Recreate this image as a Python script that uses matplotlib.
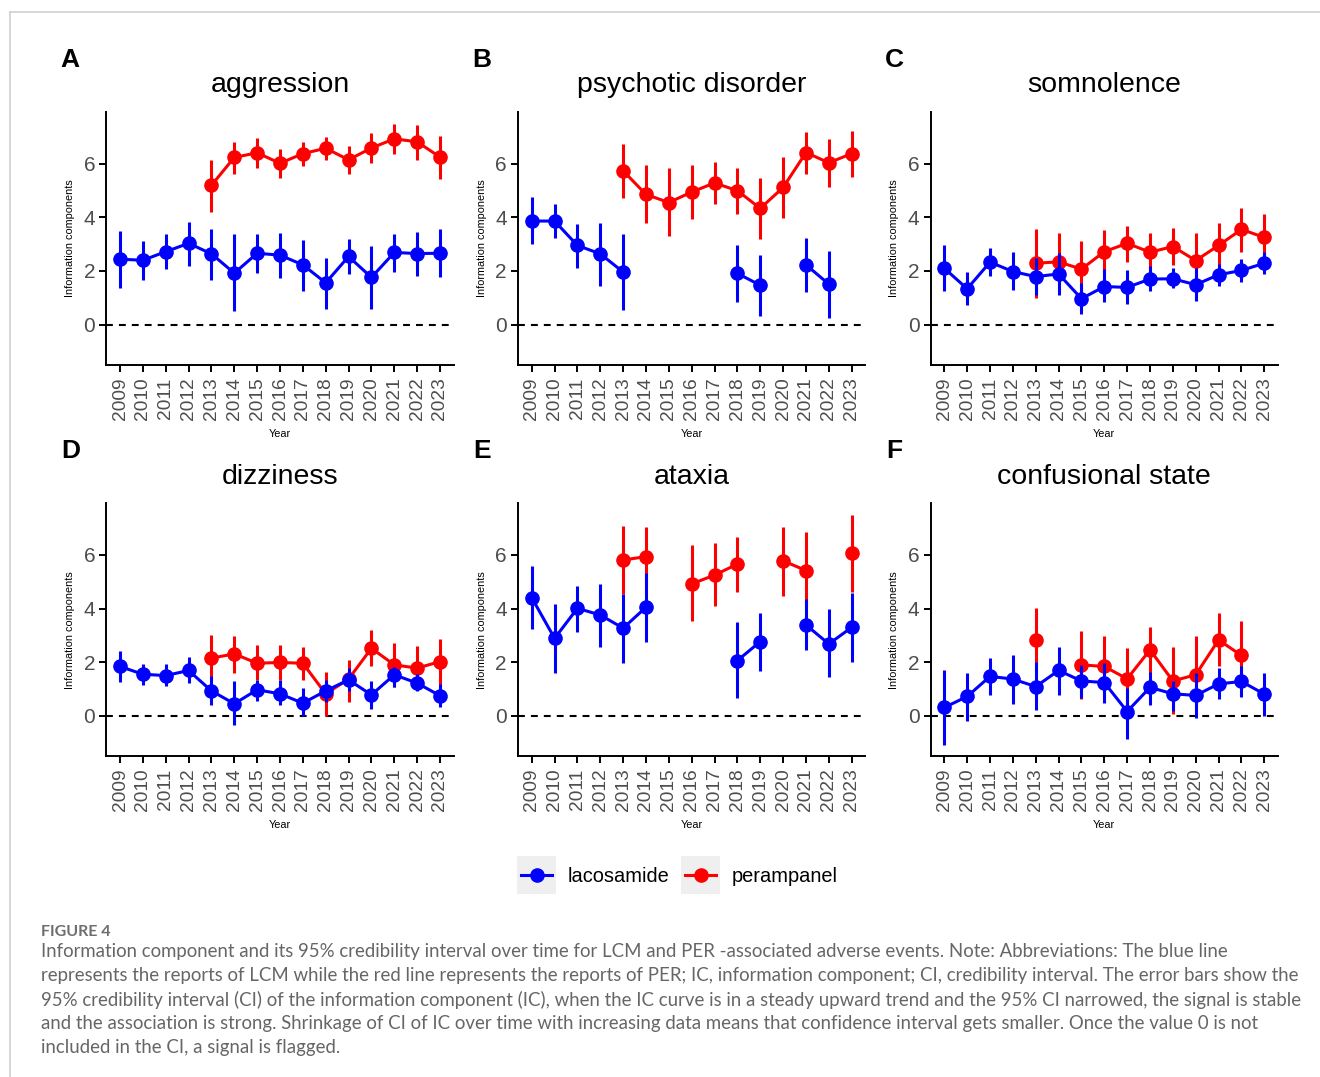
import numpy as np
import matplotlib.pyplot as plt
from matplotlib.lines import Line2D
from matplotlib.patches import Rectangle

nan = np.nan

# Data
years = [2009, 2010, 2011, 2012, 2013, 2014, 2015, 2016, 2017, 2018, 2019, 2020, 2021, 2022, 2023]
titles = ['aggression', 'psychotic disorder', 'somnolence', 'dizziness', 'ataxia', 'confusional state']
letters = ['A', 'B', 'C', 'D', 'E', 'F']
drugs = ['lacosamide', 'perampanel']

# lacosamide (blue): information component and 95% credibility interval
lcm_ic = [
    [2.44, 2.40, 2.72, 3.03, 2.64, 1.92, 2.66, 2.59, 2.23, 1.56, 2.54, 1.76, 2.69, 2.65, 2.66],
    [3.86, 3.86, 2.95, 2.64, 1.96, nan, nan, nan, nan, 1.91, 1.47, nan, 2.23, 1.51, nan],
    [2.10, 1.34, 2.33, 1.98, 1.79, 1.89, 0.97, 1.42, 1.39, 1.70, 1.71, 1.49, 1.86, 2.02, 2.29],
    [1.84, 1.55, 1.50, 1.69, 0.93, 0.45, 0.97, 0.82, 0.47, 0.93, 1.34, 0.78, 1.53, 1.22, 0.75],
    [4.41, 2.89, 4.01, 3.76, 3.27, 4.05, nan, nan, nan, 2.06, 2.77, nan, 3.39, 2.68, 3.30],
    [0.31, 0.72, 1.47, 1.37, 1.09, 1.69, 1.30, 1.24, 0.16, 1.06, 0.82, 0.76, 1.19, 1.28, 0.81],
]
lcm_lo = [
    [1.36, 1.67, 2.08, 2.20, 1.67, 0.52, 1.94, 1.73, 1.26, 0.59, 1.89, 0.59, 1.98, 1.82, 1.77],
    [3.00, 3.22, 2.13, 1.46, 0.53, nan, nan, nan, nan, 0.84, 0.31, nan, 1.21, 0.25, nan],
    [1.24, 0.72, 1.82, 1.30, 1.11, 1.11, 0.40, 0.84, 0.77, 1.24, 1.36, 0.87, 1.46, 1.58, 1.88],
    [1.25, 1.16, 1.12, 1.22, 0.39, -0.34, 0.57, 0.39, 0.00, 0.53, 0.91, 0.26, 1.09, 0.91, 0.32],
    [3.23, 1.59, 3.12, 2.58, 1.96, 2.77, nan, nan, nan, 0.66, 1.68, nan, 2.46, 1.44, 2.02],
    [-1.08, -0.21, 0.78, 0.45, 0.22, 0.78, 0.66, 0.47, -0.87, 0.41, 0.19, -0.09, 0.62, 0.70, 0.00],
]
lcm_hi = [
    [3.49, 3.12, 3.37, 3.81, 3.56, 3.37, 3.37, 3.43, 3.16, 2.50, 3.18, 2.93, 3.37, 3.44, 3.56],
    [4.76, 4.49, 3.75, 3.77, 3.37, nan, nan, nan, nan, 2.97, 2.60, nan, 3.22, 2.75, nan],
    [2.95, 1.96, 2.85, 2.70, 2.48, 2.66, 1.57, 2.07, 2.04, 2.17, 2.10, 2.10, 2.26, 2.45, 2.72],
    [2.43, 1.94, 1.93, 2.19, 1.49, 1.28, 1.34, 1.32, 1.03, 1.32, 1.78, 1.28, 1.81, 1.57, 1.19],
    [5.57, 4.17, 4.84, 4.91, 4.55, 5.32, nan, nan, nan, 3.49, 3.85, nan, 4.36, 3.99, 4.57],
    [1.71, 1.59, 2.15, 2.25, 2.02, 2.56, 1.90, 1.96, 1.03, 1.65, 1.28, 1.59, 1.78, 1.86, 1.59],
]

# perampanel (red)
per_ic = [
    [nan, nan, nan, nan, 5.19, 6.23, 6.40, 6.01, 6.37, 6.57, 6.14, 6.58, 6.92, 6.81, 6.24],
    [nan, nan, nan, nan, 5.73, 4.85, 4.55, 4.94, 5.28, 4.99, 4.33, 5.11, 6.41, 6.03, 6.37],
    [nan, nan, nan, nan, 2.29, 2.34, 2.07, 2.72, 3.03, 2.70, 2.91, 2.39, 2.95, 3.55, 3.25],
    [nan, nan, nan, nan, 2.15, 2.31, 1.96, 1.99, 1.96, 0.82, 1.37, 2.52, 1.90, 1.78, 2.02],
    [nan, nan, nan, nan, 5.81, 5.94, nan, 4.92, 5.25, 5.66, nan, 5.78, 5.42, nan, 6.06],
    [nan, nan, nan, nan, 2.83, nan, 1.90, 1.84, 1.38, 2.46, 1.30, 1.53, 2.83, 2.25, nan],
]
per_lo = [
    [nan, nan, nan, nan, 4.21, 5.63, 5.82, 5.47, 5.92, 6.13, 5.61, 6.03, 6.37, 6.13, 5.42],
    [nan, nan, nan, nan, 4.73, 3.80, 3.32, 3.94, 4.48, 4.12, 3.19, 3.96, 5.61, 5.14, 5.51],
    [nan, nan, nan, nan, 0.99, 1.30, 1.00, 1.90, 2.35, 2.00, 2.23, 1.60, 2.10, 2.72, 2.40],
    [nan, nan, nan, nan, 1.40, 1.61, 1.32, 1.34, 1.34, 0.00, 0.53, 1.84, 1.07, 0.97, 1.10],
    [nan, nan, nan, nan, 4.55, 4.80, nan, 3.52, 4.10, 4.63, nan, 4.48, 4.00, nan, 4.60],
    [nan, nan, nan, nan, 1.70, nan, 0.63, 0.80, 0.30, 1.60, 0.06, 0.30, 1.84, 1.10, nan],
]
per_hi = [
    [nan, nan, nan, nan, 6.13, 6.79, 6.96, 6.53, 6.79, 6.98, 6.66, 7.15, 7.46, 7.43, 7.03],
    [nan, nan, nan, nan, 6.74, 5.94, 5.84, 5.94, 6.06, 5.84, 5.48, 6.25, 7.18, 6.93, 7.22],
    [nan, nan, nan, nan, 3.55, 3.40, 3.13, 3.53, 3.69, 3.43, 3.61, 3.40, 3.77, 4.33, 4.12],
    [nan, nan, nan, nan, 3.02, 2.98, 2.65, 2.65, 2.55, 1.65, 2.09, 3.20, 2.73, 2.62, 2.87],
    [nan, nan, nan, nan, 7.08, 7.03, nan, 6.37, 6.43, 6.66, nan, 7.03, 6.84, nan, 7.49],
    [nan, nan, nan, nan, 4.01, nan, 3.17, 2.99, 2.52, 3.33, 2.58, 2.96, 3.85, 3.52, nan],
]

caption_lines = [
    "Information component and its 95% credibility interval over time for LCM and PER -associated adverse events. Note: Abbreviations: The blue line",
    "represents the reports of LCM while the red line represents the reports of PER; IC, information component; CI, credibility interval. The error bars show the",
    "95% credibility interval (CI) of the information component (IC), when the IC curve is in a steady upward trend and the 95% CI narrowed, the signal is stable",
    "and the association is strong. Shrinkage of CI of IC over time with increasing data means that confidence interval gets smaller. Once the value 0 is not",
    "included in the CI, a signal is flagged.",
]

BLUE = '#0000FF'
RED = '#FF0000'
TICK_GRAY = '#4D4D4D'

plt.rcParams['font.family'] = ['Liberation Sans', 'DejaVu Sans']

W, H = 1320, 1077
fig = plt.figure(figsize=(W / 100, H / 100), dpi=100)


def px_box(left, top, right, bottom):
    return [left / W, 1 - bottom / H, (right - left) / W, (bottom - top) / H]


col_x = [(106.3, 453.7), (518.0, 865.4), (930.6, 1278.0)]
row_y = [(112.0, 365.0), (503.5, 756.0)]

for i in range(6):
    r, c = divmod(i, 3)
    x0, x1 = col_x[c]
    y0, y1 = row_y[r]
    ax = fig.add_axes(px_box(x0, y0, x1, y1))

    ax.axhline(0, color='black', lw=1.5, ls=(0, (3.3, 2.9)), zorder=1)

    # perampanel first, lacosamide drawn on top
    ax.plot(years, per_ic[i], color=RED, lw=2.2, marker='o', ms=9.5, zorder=2)
    ax.vlines(years, per_lo[i], per_hi[i], color=RED, lw=2.2, zorder=2)
    ax.plot(years, lcm_ic[i], color=BLUE, lw=2.2, marker='o', ms=9.5, zorder=3)
    ax.vlines(years, lcm_lo[i], lcm_hi[i], color=BLUE, lw=2.2, zorder=3)

    ax.set_xlim(2008.4, 2023.6)
    ax.set_ylim(-1.5, 7.92)
    ax.set_xticks(years)
    ax.set_xticklabels([str(y) for y in years], rotation=90, fontsize=13.8, color=TICK_GRAY)
    ax.set_yticks([0, 2, 4, 6])
    ax.set_yticklabels(['0', '2', '4', '6'], fontsize=15, color=TICK_GRAY)
    ax.tick_params(axis='both', length=5, width=1.4, color='black', pad=3)
    ax.tick_params(axis='x', pad=4)

    for s in ['top', 'right']:
        ax.spines[s].set_visible(False)
    for s in ['left', 'bottom']:
        ax.spines[s].set_linewidth(1.4)

    ax.set_xlabel('Year', fontsize=7.8, labelpad=6)
    ax.set_ylabel('Information components', fontsize=7.8, labelpad=6)

    cx = (x0 + x1) / 2
    fig.text(cx / W, 1 - (y0 - 27) / H, titles[i], fontsize=20.5, ha='center', va='center')
    fig.text((x0 - 36) / W, 1 - (y0 - 52) / H, letters[i], fontsize=19,
             fontweight='bold', ha='center', va='center')

# legend with grey key background
leg_y = 875
for k, (name, col, kx) in enumerate(zip(drugs, [BLUE, RED], [517, 681])):
    fig.patches.append(Rectangle((kx / W, 1 - 894 / H), 39 / W, 38 / H,
                                 transform=fig.transFigure, facecolor='#EFEFEF',
                                 edgecolor='none'))
    fig.lines.append(Line2D([(kx + 4) / W, (kx + 35) / W], [1 - leg_y / H] * 2,
                            transform=fig.transFigure, color=col, lw=2.2))
    fig.lines.append(Line2D([(kx + 19.5) / W], [1 - leg_y / H], transform=fig.transFigure,
                            color=col, marker='o', ms=9.5, lw=0))
    fig.text((kx + 51) / W, 1 - (leg_y + 1) / H, name, fontsize=14.4, ha='left', va='center')

# frame lines of the figure box
fig.lines.append(Line2D([10 / W, 1], [1 - 12 / H] * 2, transform=fig.transFigure,
                        color='#D0D0D0', lw=1.2))
fig.lines.append(Line2D([10 / W] * 2, [1 - 12 / H, 0], transform=fig.transFigure,
                        color='#D0D0D0', lw=1.2))

# caption
fig.text(41 / W, 1 - 932 / H, 'FIGURE 4', fontsize=11.5, fontweight='bold',
         color='#6E6E6E', family=['Lato', 'DejaVu Sans'], ha='left', va='center')
for j, line in enumerate(caption_lines):
    fig.text(41 / W, 1 - (952 + 24 * j) / H, line, fontsize=13.4, color='#666666',
             family=['Lato', 'DejaVu Sans'], ha='left', va='center')

fig.savefig('out.png', dpi=100)
